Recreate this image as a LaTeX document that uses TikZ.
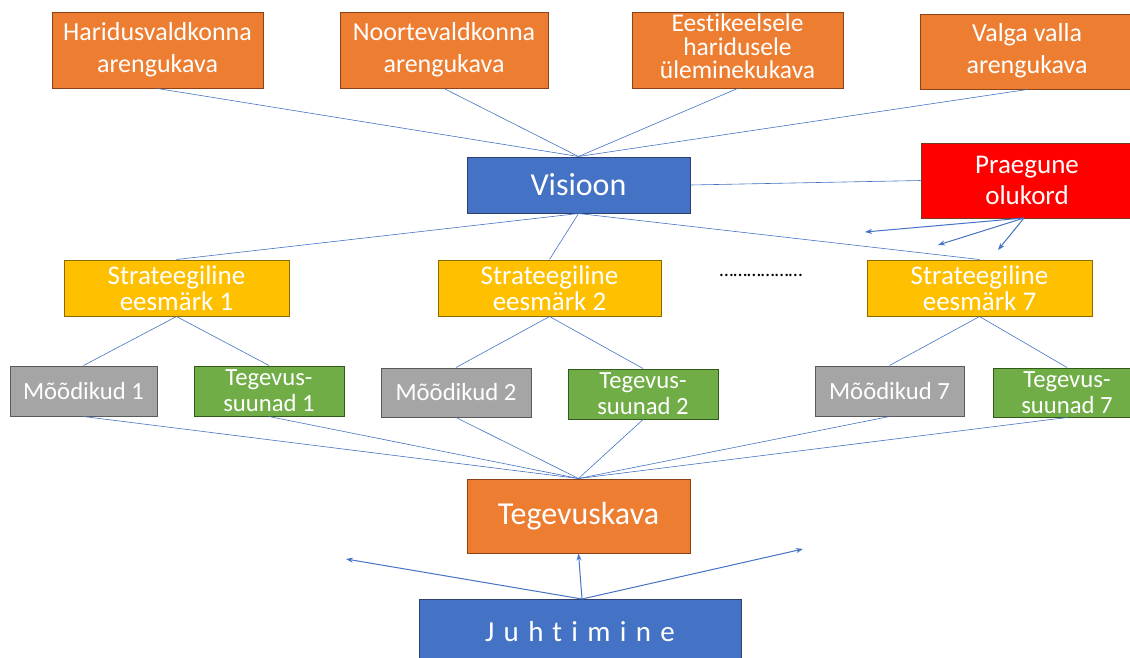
\documentclass[tikz,border=0pt]{standalone}
\usepackage{fontspec}
\setmainfont{Carlito}[Ligatures=NoCommon]
\usetikzlibrary{arrows.meta}
\definecolor{cOrange}{HTML}{ED7D31}
\definecolor{cOrangeB}{HTML}{8A4216}
\definecolor{cBlue}{HTML}{4472C4}
\definecolor{cBlueB}{HTML}{2F3F6F}
\definecolor{cYellow}{HTML}{FFC000}
\definecolor{cYellowB}{HTML}{8C6A00}
\definecolor{cGray}{HTML}{A5A5A5}
\definecolor{cGrayB}{HTML}{5A5A5A}
\definecolor{cGreen}{HTML}{70AD47}
\definecolor{cGreenB}{HTML}{2F5A1A}
\definecolor{cRed}{HTML}{FF0000}
\definecolor{cRedB}{HTML}{7A3A1A}
\definecolor{cLine}{HTML}{4472C4}
\begin{document}
\begin{tikzpicture}[x=1pt,y=-1pt,
  box/.style={draw, line width=1pt, inner sep=0pt, align=center, text=white},
  obox/.style={box, fill=cOrange, draw=cOrangeB},
  bbox/.style={box, fill=cBlue, draw=cBlueB},
  ybox/.style={box, fill=cYellow, draw=cYellowB},
  gbox/.style={box, fill=cGray, draw=cGrayB},
  grbox/.style={box, fill=cGreen, draw=cGreenB},
  rbox/.style={box, fill=cRed, draw=cRedB},
  conn/.style={draw=cLine, line width=0.6pt},
  arr/.style={draw=cLine, line width=1pt, -{Stealth[length=7pt,width=5pt]}},
  fA/.style={font=\fontsize{26}{32}\selectfont},
  fE/.style={font=\fontsize{25.5}{25}\selectfont},
  fS/.style={font=\fontsize{27}{26}\selectfont},
  fM/.style={font=\fontsize{24.7}{26}\selectfont},
  fV/.style={font=\fontsize{32}{34}\selectfont},
  fP/.style={font=\fontsize{27}{31}\selectfont},
]
\useasboundingbox (0,0) rectangle (1130,657);
% top row
\node[obox, fA, minimum width=211pt, minimum height=76pt] (har) at (157.5,50) {\raisebox{-2pt}{\begin{tabular}{@{}c@{}}Haridusvaldkonna\\arengukava\end{tabular}}};
\node[obox, fA, minimum width=208pt, minimum height=76pt] (noo) at (444,50) {\raisebox{-2pt}{\begin{tabular}{@{}c@{}}Noortevaldkonna\\arengukava\end{tabular}}};
\node[obox, fE, minimum width=211pt, minimum height=76pt] (ees) at (737.5,50) {\raisebox{-2pt}{\begin{tabular}{@{}c@{}}Eestikeelsele\\[-2pt]haridusele\\[-2pt]üleminekukava\end{tabular}}};
\node[obox, fA, minimum width=214pt, minimum height=75pt] (val) at (1027,51.5) {\raisebox{-2pt}{\begin{tabular}{@{}c@{}}Valga valla\\arengukava\end{tabular}}};
% vision
\node[bbox, fV, minimum width=223pt, minimum height=56pt] (vis) at (578.5,185) {Visioon};
\node[rbox, fP, minimum width=212pt, minimum height=75pt] (pra) at (1027,180.5) {Praegune\\olukord};
% strategic goals
\node[ybox, fS, minimum width=225pt, minimum height=56pt] (s1) at (176.5,288) {Strateegiline\\eesmärk 1};
\node[ybox, fS, minimum width=223pt, minimum height=56pt] (s2) at (549.5,288) {Strateegiline\\eesmärk 2};
\node[ybox, fS, minimum width=225pt, minimum height=56pt] (s7) at (979.5,288) {Strateegiline\\eesmärk 7};
\node[font=\fontsize{20}{20}\selectfont, text=black, inner sep=0pt] (dots) at (761,275) {………………};
% indicators / directions
\node[gbox, fM, minimum width=147pt, minimum height=50pt] (m1) at (83.5,391) {Mõõdikud 1};
\node[grbox, fM, minimum width=150pt, minimum height=50pt] (t1) at (269,391) {Tegevus-\\suunad 1};
\node[gbox, fM, minimum width=150pt, minimum height=49pt] (m2) at (456,392.5) {Mõõdikud 2};
\node[grbox, fM, minimum width=150pt, minimum height=50pt] (t2) at (643,394) {Tegevus-\\suunad 2};
\node[gbox, fM, minimum width=149pt, minimum height=50pt] (m7) at (889.5,391) {Mõõdikud 7};
\node[grbox, fM, minimum width=148pt, minimum height=49pt] (t7) at (1067,392.5) {Tegevus-\\suunad 7};
% action plan
\node[obox, fV, minimum width=223pt, minimum height=74pt] (teg) at (578.5,516) {Tegevuskava};
\node[bbox, font=\fontsize{29}{30}\selectfont\addfontfeatures{LetterSpace=32}, minimum width=322pt, minimum height=66pt] (juh) at (580,632) {\raisebox{-4pt}{Juhtimine}};
% connectors
\foreach \n in {har,noo,ees,val} \draw[conn] (\n.south) -- (vis.north);
\draw[conn] (vis.east) -- (pra.west);
\foreach \n in {s1,s2,s7} \draw[conn] (vis.south) -- (\n.north);
\draw[conn] (s1.south) -- (m1.north); \draw[conn] (s1.south) -- (t1.north);
\draw[conn] (s2.south) -- (m2.north); \draw[conn] (s2.south) -- (t2.north);
\draw[conn] (s7.south) -- (m7.north); \draw[conn] (s7.south) -- (t7.north);
\foreach \n in {m1,t1,m2,t2,m7,t7} \draw[conn] (\n.south) -- (teg.north);
% arrows from current situation
\coordinate (pa1) at (865,232);
\coordinate (pa2) at (938,245);
\coordinate (pa3) at (998,250);
\coordinate (prs) at (1024,218);
\foreach \c in {pa1,pa2,pa3} \draw[arr] (prs) -- (\c);
% arrows from management
\coordinate (js) at (582,599);
\coordinate (ja1) at (346,559);
\coordinate (ja3) at (803,549);
\draw[arr] (js) -- (ja1);
\draw[arr] (js) -- (teg.south);
\draw[arr] (js) -- (ja3);
\end{tikzpicture}
\end{document}
